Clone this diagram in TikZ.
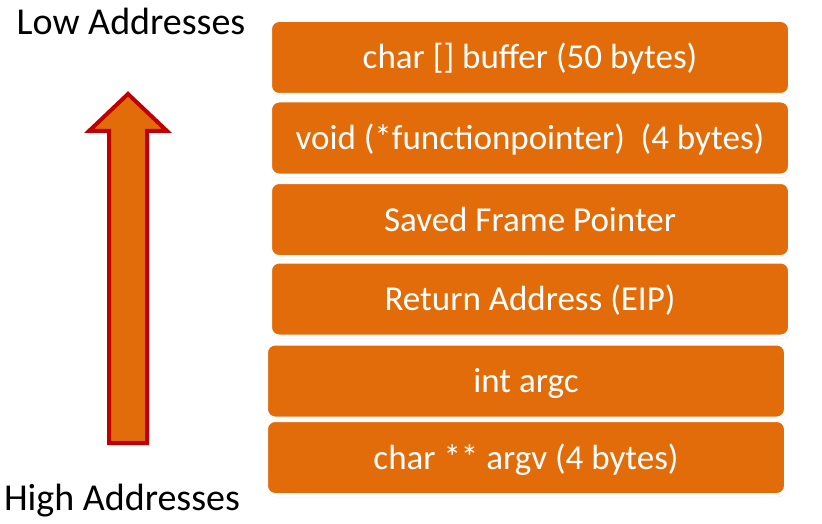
\documentclass[tikz,border=0pt]{standalone}
\usepackage{fontspec}
\setmainfont{Carlito}
\definecolor{stack_orange}{RGB}{227, 108, 10}
\definecolor{stack_red}{RGB}{192, 0, 0}
\definecolor{stack_shadow}{RGB}{230, 170, 175}
\usepackage{tikz}
\usetikzlibrary{positioning, shadows}

\begin{document}
\begin{tikzpicture}[x=1pt, y=-1pt,
    frame/.style={fill=stack_orange, draw=white, line width=4pt, rounded corners=9pt,
      minimum height=75pt, text=white, font=\fontsize{35}{40}\selectfont,
      text height=27pt, text depth=4pt,
      drop shadow={fill=stack_shadow, opacity=0.6, shadow xshift=1pt, shadow yshift=-2pt}},
    wide/.style={frame, minimum width=520pt, inner ysep=0pt},
    side/.style={font=\fontsize{38}{42}\selectfont, anchor=base}]
    \useasboundingbox (0,0) rectangle (822,524);

    % direction of growth
    \draw[stack_red, line width=4pt, fill=stack_orange, line join=miter]
      (128,94) -- (167,131) -- (147,131) -- (147,443) -- (109,443) -- (109,131) -- (89,131) -- cycle;

    \node[side] (low)  at (131,35)  {Low Addresses};
    \node[side] (high) at (122,510) {High Addresses};

    % stack frames
    \node[wide] (buf)  at (530,57.5)  {char [] buffer (50 bytes)};
    \node[wide] (fptr) at (530,138)   {void (*functionpointer)\ \ (4 bytes)};
    \node[wide] (sfp)  at (530,219.5) {Saved Frame Pointer};
    \node[wide] (ret)  at (530,299)   {Return Address (EIP)};
    \node[wide] (argc) at (526,381)   {int argc};
    \node[wide] (argv) at (526,457.5) {char ** argv (4 bytes)};
  \end{tikzpicture}
\end{document}
